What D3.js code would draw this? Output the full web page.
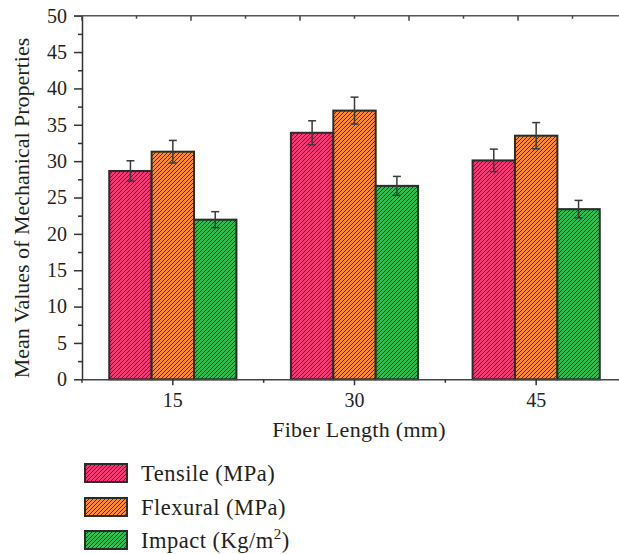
<!DOCTYPE html>
<html>
<head>
<meta charset="utf-8">
<script src="https://cdn.jsdelivr.net/npm/d3@7/dist/d3.min.js"></script>
<style>
  html, body { margin: 0; padding: 0; background: #fff; }
  svg { display: block; }
  text { font-family: "Liberation Serif", "Times New Roman", serif; fill: #231f20; }
</style>
</head>
<body>
<svg id="chart" width="619" height="554"></svg>
<script>
// ---- data ----
const categories = ["15", "30", "45"];
const seriesNames = ["Tensile (MPa)", "Flexural (MPa)", "Impact (Kg/m2)"];
const tensile  = [28.65, 33.9, 30.1];
const flexural = [31.3, 36.95, 33.5];
const impact   = [21.95, 26.6, 23.4];
const tensileErr  = [1.4, 1.65, 1.55];
const flexuralErr = [1.55, 1.85, 1.8];
const impactErr   = [1.1, 1.3, 1.2];
const yTicks = [0, 5, 10, 15, 20, 25, 30, 35, 40, 45, 50];
const colors = ["#f23774", "#fc8a28", "#26bd52"];

const values = [tensile, flexural, impact];
const errs = [tensileErr, flexuralErr, impactErr];

const svg = d3.select("#chart");
const mLeft = 82, mRight = 627, mTop = 15.7, mBottom = 379.3;

const x0 = d3.scaleBand().domain(categories).range([mLeft, mRight]).paddingInner(0).paddingOuter(0);
const bw = x0.bandwidth();
const x1 = d3.scaleBand().domain(d3.range(3)).range([bw * 0.15, bw * 0.85]).padding(0);
const y = d3.scaleLinear().domain([0, 50]).range([mBottom, mTop]);

// patterns (anchored to the svg origin)
const defs = svg.append("defs");
colors.forEach((c, i) => {
  const p = defs.append("pattern").attr("id", "pat" + i)
    .attr("patternUnits", "userSpaceOnUse").attr("width", 4).attr("height", 4);
  p.append("rect").attr("width", 4).attr("height", 4).attr("fill", c);
  p.append("path").attr("d", "M-1,1 l2,-2 M0,4 l4,-4 M3,5 l2,-2")
    .attr("stroke", "#2d2528").attr("stroke-width", 0.9);
});

const flat = [];
categories.forEach((c, ci) => values.forEach((v, si) => flat.push({ c, si, v: v[ci], e: errs[si][ci] })));

// bars
svg.append("g").selectAll("rect").data(flat).join("rect")
  .attr("x", d => x0(d.c) + x1(d.si))
  .attr("y", d => y(d.v))
  .attr("width", x1.bandwidth())
  .attr("height", d => y(0) - y(d.v))
  .attr("fill", d => `url(#pat${d.si})`)
  .attr("stroke", "#2b2b2b").attr("stroke-width", 2);

// error bars
svg.append("g").selectAll("g").data(flat).join("g")
  .each(function (d) {
    const g = d3.select(this);
    const cx = x0(d.c) + x1(d.si) + x1.bandwidth() / 2;
    g.append("line").attr("x1", cx).attr("x2", cx).attr("y1", y(d.v + d.e)).attr("y2", y(d.v - d.e));
    g.append("line").attr("x1", cx - 4).attr("x2", cx + 4).attr("y1", y(d.v + d.e)).attr("y2", y(d.v + d.e));
    g.append("line").attr("x1", cx - 4).attr("x2", cx + 4).attr("y1", y(d.v - d.e)).attr("y2", y(d.v - d.e));
    g.selectAll("line").attr("stroke", "#3a3a3a").attr("stroke-width", 1.5);
  });

// y axis
const yAxis = d3.axisLeft(y).tickValues(yTicks).tickSize(8).tickPadding(7).tickSizeOuter(0);
const yg = svg.append("g").attr("transform", `translate(${mLeft},0)`).call(yAxis);
yg.selectAll("text").attr("font-size", 20).attr("font-family", "Liberation Serif").attr("fill", "#231f20");
yg.select(".domain").attr("stroke", "#333").attr("stroke-width", 1.5);
yg.selectAll(".tick line").attr("stroke", "#333").attr("stroke-width", 1.5);
const yMinor = d3.axisLeft(y).tickValues(d3.range(2.5, 50, 5)).tickSize(4).tickFormat("");
const ymg = svg.append("g").attr("transform", `translate(${mLeft},0)`).call(yMinor);
ymg.select(".domain").remove();
ymg.selectAll(".tick line").attr("stroke", "#333").attr("stroke-width", 1.5);

// x axis
const xAxis = d3.axisBottom(x0).tickSize(6).tickPadding(8).tickSizeOuter(0);
const xg = svg.append("g").attr("transform", `translate(0,${mBottom})`).call(xAxis);
xg.selectAll("text").attr("font-size", 20).attr("font-family", "Liberation Serif").attr("fill", "#231f20");
xg.select(".domain").attr("stroke", "#444").attr("stroke-width", 1.5);
xg.selectAll(".tick line").attr("stroke", "#333").attr("stroke-width", 1.5);
const edges = categories.map(c => x0(c)).concat([mRight]);
const xmg = svg.append("g").attr("transform", `translate(0,${mBottom})`);
xmg.selectAll("line").data(edges).join("line")
  .attr("x1", d => d).attr("x2", d => d).attr("y1", 0).attr("y2", 3.5)
  .attr("stroke", "#333").attr("stroke-width", 1.5);

// top mirror axis
const xt = d3.scaleLinear().domain([0, 10]).range([mLeft, mRight]);
const tg = svg.append("g").attr("transform", `translate(0,${mTop})`);
tg.append("line").attr("x1", mLeft - 8).attr("x2", mRight).attr("y1", 0).attr("y2", 0)
  .attr("stroke", "#555").attr("stroke-width", 1.5);
tg.selectAll("line.t").data(xt.ticks(10)).join("line").attr("class", "t")
  .attr("x1", d => xt(d)).attr("x2", d => xt(d)).attr("y1", 0)
  .attr("y2", d => (d % 2 === 0 ? 5 : 3))
  .attr("stroke", "#444").attr("stroke-width", 1.5);

// axis titles
svg.append("text").attr("x", 359).attr("y", 437)
  .attr("text-anchor", "middle").attr("font-size", 22).attr("letter-spacing", 0.3)
  .text("Fiber Length (mm)");
svg.append("text").attr("transform", "translate(29,208) rotate(-90)")
  .attr("text-anchor", "middle").attr("font-size", 22).text("Mean Values of Mechanical Properties");

// legend
const leg = svg.append("g");
const rowY = [473, 507, 540];
seriesNames.forEach((name, i) => {
  leg.append("rect").attr("x", 85).attr("y", rowY[i] - 9).attr("width", 42).attr("height", 18)
    .attr("fill", `url(#pat${i})`).attr("stroke", "#2b2b2b").attr("stroke-width", 2);
  const t = leg.append("text").attr("x", 141).attr("y", rowY[i] + 8)
    .attr("font-size", 22.5).attr("letter-spacing", 0.5);
  if (name.endsWith("m2)")) {
    t.text(name.slice(0, -2));
    t.append("tspan").attr("dy", -9).attr("font-size", 15).text("2");
    t.append("tspan").attr("dy", 9).text(")");
  } else {
    t.text(name);
  }
});
</script>
</body>
</html>
